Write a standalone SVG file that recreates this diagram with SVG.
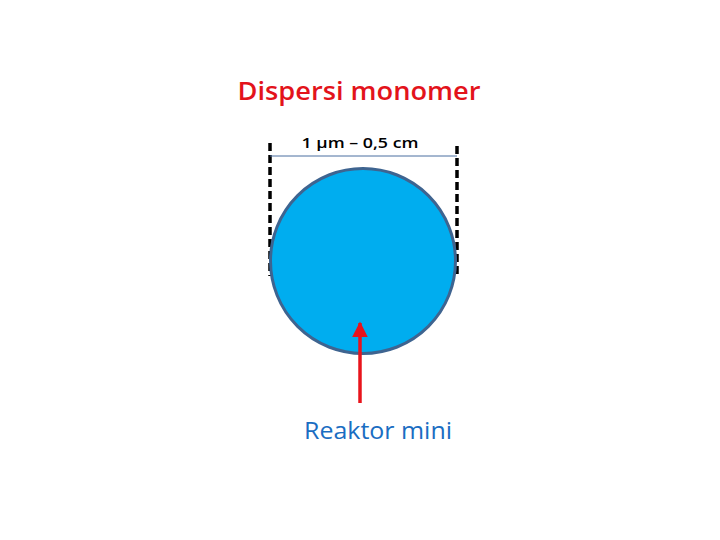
<svg xmlns="http://www.w3.org/2000/svg" width="720" height="540" viewBox="0 0 720 540">
<defs>
<marker id="ah" viewBox="0 0 10 10" refX="9" refY="5" markerWidth="4.5" markerHeight="4.5" orient="auto"><path d="M0,0 L10,5 L0,10 z" fill="#e8141c"/></marker>
</defs>
<style>
text{font-family:"Open Sans","Liberation Sans",sans-serif;text-anchor:middle}
.dash{stroke:#000;stroke-width:3.5;stroke-dasharray:8,4;fill:none}
</style>
<rect width="720" height="540" fill="#fff"/>
<text x="359" y="100" font-size="26" font-weight="600" fill="#e3131b" textLength="243" lengthAdjust="spacingAndGlyphs">Dispersi monomer</text>
<g id="dim">
<line class="dash" x1="270" y1="143" x2="270" y2="276"/>
<line class="dash" x1="457" y1="146" x2="457" y2="278"/>
<line x1="270" y1="156" x2="457" y2="156" stroke="#4a6fa0" stroke-width="1"/>
<text x="360" y="148" font-size="15" font-weight="600" fill="#000" textLength="117" lengthAdjust="spacingAndGlyphs">1 µm – 0,5 cm</text>
</g>
<g id="droplet">
<circle cx="363" cy="261" r="92.5" fill="#00adef" stroke="#3e6490" stroke-width="3"/>
</g>
<g id="connectors">
<line x1="360" y1="403" x2="360" y2="323" stroke="#e8141c" stroke-width="3.5" marker-end="url(#ah)"/>
</g>
<g id="label">
<text x="378" y="439" font-size="24" font-weight="500" fill="#1a6dc2" textLength="148" lengthAdjust="spacingAndGlyphs">Reaktor mini</text>
</g>
</svg>
